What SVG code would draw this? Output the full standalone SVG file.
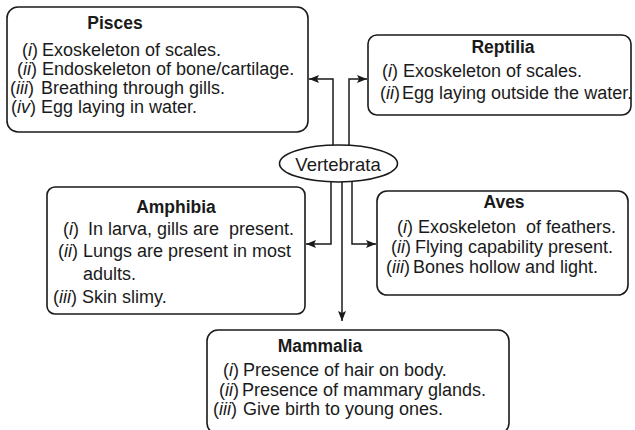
<svg xmlns="http://www.w3.org/2000/svg" width="635" height="430" viewBox="0 0 635 430">
<style>
text{font-family:"Liberation Sans",Arial,sans-serif;font-size:18px;fill:#1a1a1a}
.t{font-weight:bold;font-size:17.5px;text-anchor:middle}
.it{font-style:italic}
.box{fill:#fff;stroke:#1a1a1a;stroke-width:1.6}
.ln{fill:none;stroke:#1a1a1a;stroke-width:1.5}
</style>
<defs>
<marker id="ah" viewBox="0 0 10 8" refX="10" refY="4" markerWidth="10" markerHeight="8" markerUnits="userSpaceOnUse" orient="auto">
<path d="M0,0 L10,4 L0,8 L2,4 Z" fill="#1a1a1a"/>
</marker>
</defs>
<rect width="635" height="430" fill="#fff"/>
<g id="connectors">
<path class="ln" d="M333,150 V79 H309" marker-end="url(#ah)"/>
<path class="ln" d="M349,150 V79 H367" marker-end="url(#ah)"/>
<path class="ln" d="M331,175 V244 H306" marker-end="url(#ah)"/>
<path class="ln" d="M352,175 V244 H376" marker-end="url(#ah)"/>
<path class="ln" d="M342,175 V321" marker-end="url(#ah)"/>
</g>
<g id="vertebrata">
<ellipse cx="338.5" cy="163.5" rx="59" ry="18.5" class="box"/>
<text x="338" y="171" text-anchor="middle" style="font-size:18.5px">Vertebrata</text>
</g>
<g id="pisces">
<rect class="box" x="7" y="7" width="301" height="125" rx="11"/>
<text class="t" x="115" y="29">Pisces</text>
<text x="22" y="56">(<tspan class="it">i</tspan>)<tspan x="42">Exoskeleton of scales.</tspan></text>
<text x="17" y="75">(<tspan class="it">ii</tspan>)<tspan x="42">Endoskeleton of bone/cartilage.</tspan></text>
<text x="10" y="94">(<tspan class="it">iii</tspan>)<tspan x="41">Breathing through gills.</tspan></text>
<text x="11" y="113">(<tspan class="it">iv</tspan>)<tspan x="41">Egg laying in water.</tspan></text>
</g>
<g id="reptilia">
<rect class="box" x="368" y="35" width="263" height="80" rx="9"/>
<text class="t" x="503" y="53">Reptilia</text>
<text x="382" y="77">(<tspan class="it">i</tspan>)<tspan x="403">Exoskeleton of scales.</tspan></text>
<text x="380" y="99">(<tspan class="it">ii</tspan>)<tspan x="402">Egg laying outside the water.</tspan></text>
</g>
<g id="amphibia">
<rect class="box" x="47" y="187" width="258" height="127" rx="8"/>
<text class="t" x="176" y="213">Amphibia</text>
<text x="63" y="235" xml:space="preserve">(<tspan class="it">i</tspan>)<tspan x="88">In larva, gills are  present.</tspan></text>
<text x="58" y="257">(<tspan class="it">ii</tspan>)<tspan x="83">Lungs are present in most</tspan></text>
<text x="83" y="280">adults.</text>
<text x="53" y="303">(<tspan class="it">iii</tspan>)<tspan x="82">Skin slimy.</tspan></text>
</g>
<g id="aves">
<rect class="box" x="377" y="191" width="251" height="104" rx="10"/>
<text class="t" x="504" y="208">Aves</text>
<text x="397" y="233" xml:space="preserve">(<tspan class="it">i</tspan>)<tspan x="418">Exoskeleton  of feathers.</tspan></text>
<text x="391" y="253">(<tspan class="it">ii</tspan>)<tspan x="415">Flying capability present.</tspan></text>
<text x="386" y="273">(<tspan class="it">iii</tspan>)<tspan x="413">Bones hollow and light.</tspan></text>
</g>
<g id="mammalia">
<rect class="box" x="207" y="330" width="302" height="104" rx="11"/>
<text class="t" x="320" y="352">Mammalia</text>
<text x="223" y="376">(<tspan class="it">i</tspan>)<tspan x="243">Presence of hair on body.</tspan></text>
<text x="219" y="396">(<tspan class="it">ii</tspan>)<tspan x="242">Presence of mammary glands.</tspan></text>
<text x="213" y="415">(<tspan class="it">iii</tspan>)<tspan x="243">Give birth to young ones.</tspan></text>
</g>
</svg>
